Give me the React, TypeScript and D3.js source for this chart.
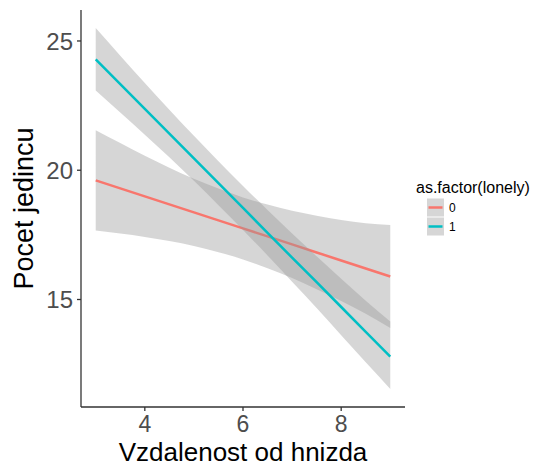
import React from "react";
import * as d3 from "d3";

const xs = [3, 3.5, 4, 4.5, 5, 5.5, 6, 6.5, 7, 7.5, 8, 8.5, 9];

const fit0 = [19.61, 19.3, 18.99, 18.68, 18.37, 18.06, 17.75, 17.44, 17.13, 16.82, 16.51, 16.2, 15.89];
const upper0 = [21.55, 21.05, 20.56, 20.1, 19.67, 19.29, 18.95, 18.67, 18.43, 18.24, 18.08, 17.95, 17.88];
const lower0 = [17.67, 17.55, 17.42, 17.26, 17.07, 16.83, 16.55, 16.21, 15.83, 15.4, 14.94, 14.45, 13.9];

const fit1 = [24.29, 23.33, 22.37, 21.42, 20.46, 19.5, 18.54, 17.58, 16.62, 15.67, 14.71, 13.75, 12.79];
const upper1 = [25.5, 24.43, 23.37, 22.34, 21.33, 20.35, 19.39, 18.46, 17.55, 16.67, 15.8, 14.95, 14.15];
const lower1 = [23.08, 22.23, 21.37, 20.5, 19.59, 18.65, 17.69, 16.7, 15.69, 14.67, 13.62, 12.57, 11.54];

const xTicks = [4, 6, 8];
const yTicks = [15, 20, 25];
const groups = ["0", "1"];
const colors = ["#F8766D", "#00BFC4"];

const xTitle = "Vzdalenost od hnizda";
const yTitle = "Pocet jedincu";
const legendTitle = "as.factor(lonely)";

export default function App() {
  const W = 537, H = 467;
  const left = 81, right = 405, top = 10, bottom = 407;
  const font = "'Liberation Sans', Arial, sans-serif";

  const xExt = d3.extent(xs) as [number, number];
  const xPad = (xExt[1] - xExt[0]) * 0.05;
  const x = d3.scaleLinear().domain([xExt[0] - xPad, xExt[1] + xPad]).range([left, right]);

  const allY = [...upper0, ...lower0, ...upper1, ...lower1];
  const yExt = d3.extent(allY) as [number, number];
  const yPad = (yExt[1] - yExt[0]) * 0.05;
  const y = d3.scaleLinear().domain([yExt[0] - yPad, yExt[1] + yPad]).range([bottom, top]);

  const series = [
    { fit: fit0, up: upper0, lo: lower0 },
    { fit: fit1, up: upper1, lo: lower1 },
  ];

  const line = d3
    .line<number>()
    .x((_, i) => x(xs[i]))
    .y((d) => y(d));

  const ribbon = (up: number[], lo: number[]) =>
    d3
      .area<number>()
      .x((_, i) => x(xs[i]))
      .y0((_, i) => y(lo[i]))
      .y1((_, i) => y(up[i]))
      .curve(d3.curveMonotoneX)(xs) as string;

  const keyX = 427;
  const keyW = 17;
  const keyCenters = [207.5, 226.5];

  return (
    <svg
      width={W}
      height={H}
      style={{ position: "absolute", left: 0, top: 0, background: "#fff" }}
      fontFamily={font}
    >
      <rect x={0} y={0} width={W} height={H} fill="#fff" />
      {series.map((s, gi) => (
        <g key={gi}>
          <path d={ribbon(s.up, s.lo)} fill="#999999" fillOpacity={0.4} stroke="none" />
          <path d={line(s.fit) as string} fill="none" stroke={colors[gi]} strokeWidth={2.5} />
        </g>
      ))}
      <line x1={left} x2={left} y1={top} y2={bottom} stroke="#333" strokeWidth={1.3} />
      <line x1={left} x2={right} y1={bottom} y2={bottom} stroke="#333" strokeWidth={1.3} />
      {yTicks.map((t) => (
        <g key={"y" + t}>
          <line x1={left - 4} x2={left} y1={y(t)} y2={y(t)} stroke="#333" strokeWidth={1.3} />
          <text x={left - 8} y={y(t)} dy="0.36em" textAnchor="end" fontSize={24} fill="#4D4D4D">
            {t}
          </text>
        </g>
      ))}
      {xTicks.map((t) => (
        <g key={"x" + t}>
          <line x1={x(t)} x2={x(t)} y1={bottom} y2={bottom + 4} stroke="#333" strokeWidth={1.3} />
          <text x={x(t)} y={432} textAnchor="middle" fontSize={23} fill="#4D4D4D">
            {t}
          </text>
        </g>
      ))}
      <text x={(left + right) / 2} y={461} textAnchor="middle" fontSize={26} fill="#000">
        {xTitle}
      </text>
      <text
        transform={`translate(33,${(top + bottom) / 2}) rotate(-90)`}
        textAnchor="middle"
        fontSize={27}
        fill="#000"
      >
        {yTitle}
      </text>
      <text x={416} y={193} fontSize={16} fill="#000">
        {legendTitle}
      </text>
      {groups.map((g, gi) => (
        <g key={g}>
          <rect x={keyX} y={keyCenters[gi] - 9} width={keyW} height={18} fill="#999999" fillOpacity={0.4} />
          <line
            x1={keyX + 1.5}
            x2={keyX + keyW - 1.5}
            y1={keyCenters[gi]}
            y2={keyCenters[gi]}
            stroke={colors[gi]}
            strokeWidth={2.5}
          />
          <text x={449} y={keyCenters[gi]} dy="0.36em" fontSize={12} fill="#000">
            {g}
          </text>
        </g>
      ))}
    </svg>
  );
}
